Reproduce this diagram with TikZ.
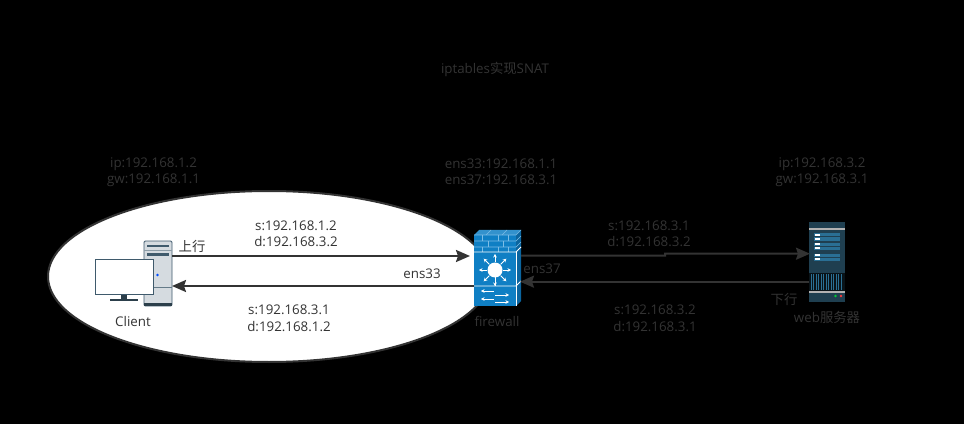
\documentclass[tikz,border=0pt]{standalone}
\usepackage{fontspec}
\setmainfont{Open Sans}
\newfontfamily\cjk{Noto Sans CJK SC}
\usetikzlibrary{arrows.meta,shapes.geometric,calc}
\definecolor{txt}{HTML}{333333}
\definecolor{fwblue}{HTML}{0F7FC4}
\definecolor{fwside}{HTML}{0B659F}
\definecolor{fwbrick}{HTML}{7DBDE6}
\definecolor{srv}{HTML}{1F3F50}
\definecolor{srvb}{HTML}{2A6F94}
\definecolor{pcgray}{HTML}{D5DBE0}
\definecolor{pcdark}{HTML}{3F5A6C}
\tikzset{
  lab/.style={font=\fontsize{10pt}{12.4pt}\selectfont, text=txt, inner sep=0pt, align=center},
  conn/.style={draw=txt, line width=1.5pt, -{Stealth[length=10.5pt,width=9pt,inset=1.5pt]}},
  wl/.style={draw=white, line width=0.55pt},
  bl/.style={draw=fwbrick, line width=0.45pt},
  wa/.style={draw=white, line width=0.7pt, -{Stealth[length=2.6pt,width=2.8pt]}},
  box/.style={inner sep=0pt, minimum width=#1*0.75pt, outer sep=0pt},
}
\begin{document}
\begin{tikzpicture}[x=0.75pt,y=-0.75pt]
\useasboundingbox (0,0) rectangle (964,424);
\fill[black] (0,0) rectangle (964,424);
% LAN ellipse
\node[ellipse, draw=txt, fill=white, line width=1.5pt, inner sep=0pt, minimum width=331.5pt, minimum height=128.25pt] (lan) at (269,276.5) {};
% Client tower
\node[box=28, minimum height=48.75pt, rounded corners=1pt, draw=pcdark, fill=pcgray, line width=0.7pt] (tower) at (158,273.5) {};
\fill[pcdark!70!black] (144,303) rectangle (172,306);
\fill[pcdark] (147,245) rectangle (169,246.5);
\draw[pcdark!60, line width=0.5pt] (144,250) -- (172,250);
\fill[pcdark] (147,253) rectangle (169,256);
\draw[pcdark!80, line width=0.5pt] (153,287) -- (172,287);
\fill[blue!70!cyan] (157.5,275) circle (1.4);
% Client monitor
\node[box=58, minimum height=26.25pt, draw=pcdark, fill=white, line width=0.6pt] (monitor) at (124,276.5) {};
\fill[pcdark!70!black] (121,295) rectangle (127,299);
\fill[pcdark!70!black] (110,299) rectangle (138,300.5);
% Firewall
\node[box=42, minimum height=40.5pt, fill=fwblue] (fw) at (495,279) {};
\fill[fwblue] (474,235) rectangle (516,252);
\fill[fwblue!85!white] (474,235) -- (479,230) -- (521,230) -- (516,235) -- cycle;
\fill[fwside] (516,235) -- (521,230) -- (521,301) -- (516,306) -- cycle;
\begin{scope}[bl]
  \draw (474,235) -- (516,235) -- (521,230);
  \draw (474,241) -- (516,241) -- (521,236);
  \draw (474,247) -- (516,247) -- (521,242);
  \draw (482,235) -- (482,241) (498,235) -- (498,241) (508,235) -- (508,241);
  \draw (488,241) -- (488,247) (503,241) -- (503,247);
  \draw (482,247) -- (482,252) (498,247) -- (498,252) (508,247) -- (508,252);
  \draw (486,235) -- (491,230) (502,235) -- (507,230);
\end{scope}
\draw[wl] (474,252) -- (516,252) -- (521,247);
\draw[wl] (474,286) -- (516,286) -- (521,281);
\draw[wl] (516,252) -- (516,306);
\fill[white] (495,270) circle (7.5);
\foreach \a in {0,45,...,315}{\draw[wa] (495,270) ++(\a:8) -- ++(\a:8);}
\draw[wl] (495,270) -- (495,286);
\draw[wa] (494,291) -- (481,291);
\draw[wa] (495,295) -- (509,295);
\draw[wa] (494,299) -- (481,299);
\draw[wa] (495,302) -- (509,302);
% Web server
\node[box=36, minimum height=60pt, fill=srv] (server) at (827,262) {};
\fill[gray!60!white] (809,228) rectangle (845,230);
\foreach \yy in {235,239,244,248,255,259}{
  \fill[srvb] (814,\yy-1.5) rectangle (840,\yy+1.5);
  \fill[white] (815,\yy-0.7) rectangle (820,\yy+0.7);
}
\fill[black!70!srv] (809,273) rectangle (845,291);
\foreach \xx in {811,813.5,...,843}{\draw[srvb, line width=0.5pt] (\xx,274) -- (\xx,290);}
\fill[gray!60!white] (809,291) rectangle (845,293);
\fill[green!60!teal] (835.5,296) circle (1.3);
\fill[red!70!pink] (841,296) circle (1.3);
% Connectors
\coordinate (j1) at (665,255.7);
\coordinate (j2) at (665,253.7);
\draw[conn] ($(tower.east)+(0,-17.5)$) -- ($(fw.west)+(-4,-23)$);
\draw[conn] ($(fw.west)+(0,7)$) -- ($(tower.east)+(0,12.5)$);
\draw[conn] ($(fw.east)+(5,-23.3)$) -- (j1) -- (j2) -- ($(server.west)+(1,-8.3)$);
\draw[conn] ($(server.west)+(0,19.7)$) -- ($(fw.east)+(4,2.7)$);
% Labels
\node[lab] (title) at (495,69.5) {iptables{\cjk 实现}SNAT};
\node[lab] (cinfo) at (153.5,172) {ip:192.168.1.2\\gw:192.168.1.1};
\node[lab] (finfo) at (501,172) {ens33:192.168.1.1\\ens37:192.168.3.1};
\node[lab] (sinfo) at (822,172) {ip:192.168.3.2\\gw:192.168.3.1};
\node[lab] (up1) at (296,234) {s:192.168.1.2\\d:192.168.3.2};
\node[lab] (down1) at (289,318.5) {s:192.168.3.1\\d:192.168.1.2};
\node[lab] (up2) at (649,234) {s:192.168.3.1\\d:192.168.3.2};
\node[lab] (down2) at (655,318.5) {s:192.168.3.2\\d:192.168.3.1};
\node[lab] (sx) at (192,246) {\cjk 上行};
\node[lab] (xx) at (784,299) {\cjk 下行};
\node[lab] (e33) at (422,273.5) {ens33};
\node[lab] (e37) at (542,268.5) {ens37};
\node[lab] (cl) at (133,321.5) {Client};
\node[lab] (fwl) at (497,321.5) {firewall};
\node[lab] (web) at (827,317.5) {web{\cjk 服务器}};
\end{tikzpicture}
\end{document}
